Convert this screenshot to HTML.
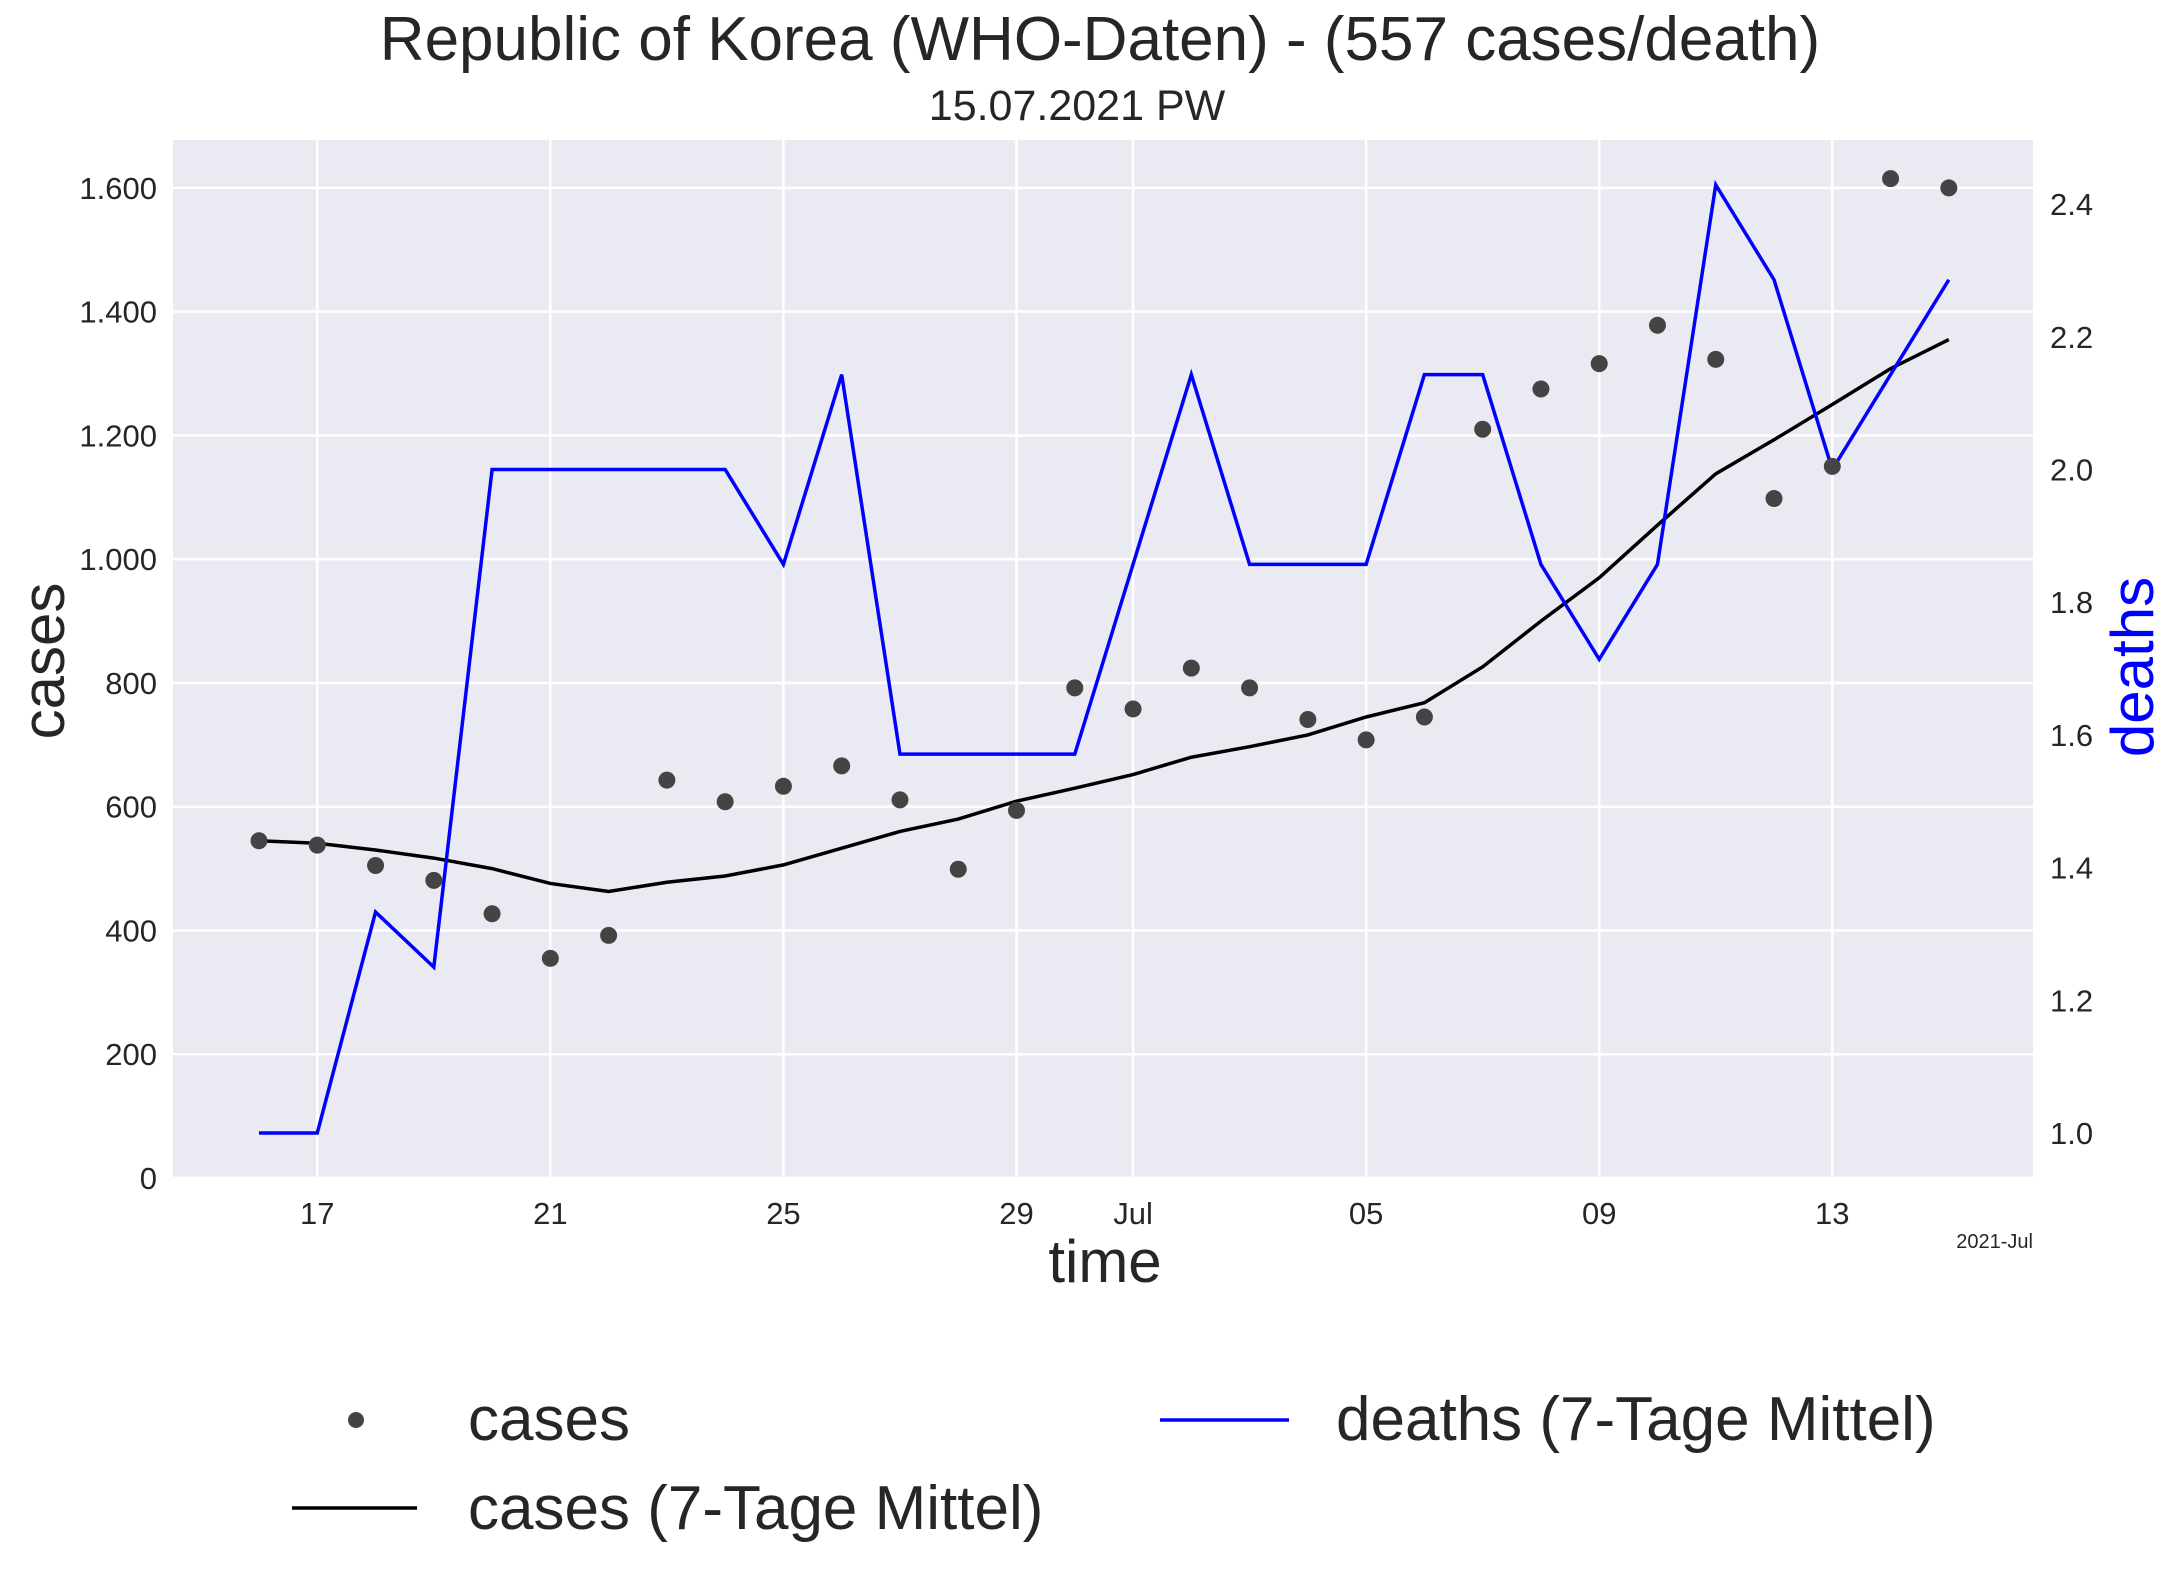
<!DOCTYPE html>
<html><head><meta charset="utf-8"><style>
body{margin:0;background:#fff}
svg text{font-family:"Liberation Sans",Arial,sans-serif;fill:#262626}
</style></head><body>
<svg id="chart" width="2171" height="1578" viewBox="0 0 2171 1578" xmlns="http://www.w3.org/2000/svg">
<text x="1100" y="60" font-size="62" text-anchor="middle">Republic of Korea (WHO-Daten) - (557 cases/death)</text>
<text x="1077" y="120" font-size="43" text-anchor="middle">15.07.2021 PW</text>
<rect x="173" y="140" width="1860" height="1038" fill="#eaeaf2"/>
<g id="grid"></g>
<g id="marks"></g>
<g id="labels"></g>
<text x="1105" y="1282" font-size="60" text-anchor="middle">time</text>
<text transform="translate(64,661) rotate(-90)" font-size="60" text-anchor="middle">cases</text>
<text transform="translate(2153,667) rotate(-90)" font-size="60" text-anchor="middle" style="fill:#0000ff">deaths</text>
<text x="2033" y="1248" font-size="20" text-anchor="end">2021-Jul</text>
<g>
<circle cx="356" cy="1420" r="8" fill="#444"/>
<text x="468" y="1440" font-size="62">cases</text>
<line x1="292" y1="1508" x2="417" y2="1508" stroke="#000" stroke-width="3.5"/>
<text x="468" y="1529" font-size="62">cases (7-Tage Mittel)</text>
<line x1="1160" y1="1420" x2="1289" y2="1420" stroke="#0000ff" stroke-width="3.5"/>
<text x="1336" y="1440" font-size="62">deaths (7-Tage Mittel)</text>
</g>
</svg>
<script>
const dayOffsets=[0,1,2,3,4,5,6,7,8,9,10,11,12,13,14,15,16,17,18,19,20,21,22,23,24,25,26,27,28,29];
const cases=[545,538,505,481,427,355,392,643,608,633,666,611,499,594,792,758,824,792,741,708,745,1210,1275,1316,1378,1323,1098,1150,1615,1600];
const casesMA=[545,541,530,517,500,476,463,478,488,506,533,560,580,609,630,652,680,697,716,745,768,826,900,970,1055,1138,1193,1250,1308,1355];
const deathsMA=[1.0,1.0,1.333,1.25,2.0,2.0,2.0,2.0,2.0,1.857,2.143,1.571,1.571,1.571,1.571,1.857,2.143,1.857,1.857,1.857,2.143,2.143,1.857,1.714,1.857,2.429,2.286,2.0,2.143,2.286];
const yTicks=[0,200,400,600,800,1000,1200,1400,1600];
const yTickLabels=["0","200","400","600","800","1.000","1.200","1.400","1.600"];
const y2Ticks=[1.0,1.2,1.4,1.6,1.8,2.0,2.2,2.4];
const xTickDays=[1,5,9,13,15,19,23,27];
const xTickLabels=["17","21","25","29","Jul","05","09","13"];
const NS="http://www.w3.org/2000/svg";
const X=d=>259+d*58.27;
const Y=v=>1178-v*0.6188;
const Y2=v=>1133-(v-1)*663.5;
function mk(tag,attrs,parent){const e=document.createElementNS(NS,tag);for(const k in attrs)e.setAttribute(k,attrs[k]);document.getElementById(parent).appendChild(e);return e;}
yTicks.forEach((t,i)=>{
 const g=mk('line',{x1:173,x2:2033,y1:Y(t),y2:Y(t),stroke:'#fff','stroke-width':2.5},'grid');
 
 
 const l=mk('text',{x:157,y:Y(t)+11,'font-size':31,'text-anchor':'end'},'labels');
 l.textContent=yTickLabels[i];
 
 
});
y2Ticks.forEach(t=>{
 const l=mk('text',{x:2050,y:Y2(t)+11,'font-size':31},'labels');
 l.textContent=t.toFixed(1);
 
 
});
xTickDays.forEach((d,i)=>{
 const g=mk('line',{x1:X(d),x2:X(d),y1:140,y2:1178,stroke:'#fff','stroke-width':2.5},'grid');
 
 
 const l=mk('text',{x:X(d),y:1224,'font-size':31,'text-anchor':'middle'},'labels');
 l.textContent=xTickLabels[i];
 
 
});
const ma=mk('polyline',{points:dayOffsets.map((d,i)=>X(d)+','+Y(casesMA[i])).join(' '),fill:'none',stroke:'#000','stroke-width':3.5},'marks');


const dl=mk('polyline',{points:dayOffsets.map((d,i)=>X(d)+','+Y2(deathsMA[i])).join(' '),fill:'none',stroke:'#0000ff','stroke-width':3.5},'marks');


dayOffsets.forEach((d,i)=>{
 const c=mk('circle',{cx:X(d),cy:Y(cases[i]),r:8.5,fill:'#444'},'marks');
 
 
});
</script>
</body></html>
